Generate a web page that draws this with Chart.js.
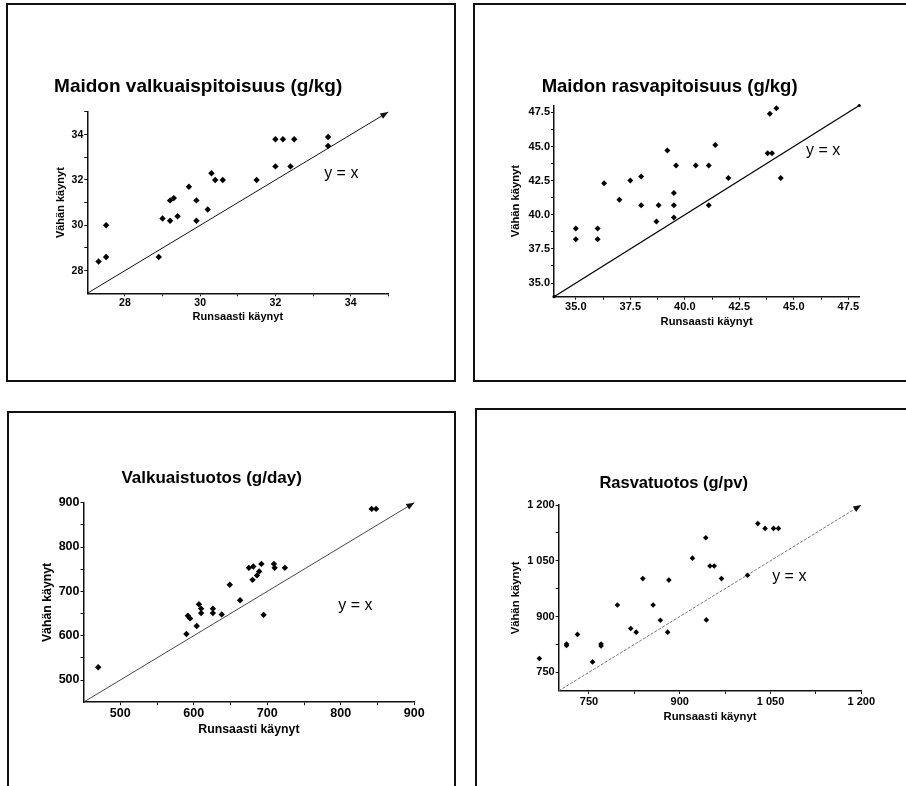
<!DOCTYPE html>
<html>
<head>
<meta charset="utf-8">
<script src="https://cdn.jsdelivr.net/npm/chart.js@4.4.1/dist/chart.umd.min.js"></script>
<style>
  html, body { margin: 0; padding: 0; background: #fff; overflow: hidden; }
  #page { position: relative; width: 906px; height: 786px; overflow: hidden; }
  .frame { position: absolute; border: 2px solid #111; box-sizing: border-box; }
  canvas { position: absolute; }
</style>
</head>
<body>
<div id="page"></div>
<script>
// Maidon valkuaispitoisuus (g/kg)
const protPctX = [27.3, 27.5, 27.5, 28.9, 29.0, 29.2, 29.2, 29.3, 29.4, 29.7, 29.9, 29.9, 30.2, 30.3, 30.4, 30.6, 31.5, 32.0, 32.0, 32.2, 32.5, 32.4, 33.4, 33.4];
const protPctY = [28.4, 28.6, 30.0, 28.6, 30.3, 30.2, 31.1, 31.2, 30.4, 31.7, 31.1, 30.2, 30.7, 32.3, 32.0, 32.0, 32.0, 32.6, 33.8, 33.8, 33.8, 32.6, 33.9, 33.5];
const protPctRange = [27, 35];
const protPctTicks = [28, 29, 30, 31, 32, 33, 34, 35];
const protPctLabelVals = [28, 30, 32, 34];
const protPctLabels = ['28', '30', '32', '34'];

// Maidon rasvapitoisuus (g/kg)
const fatPctX = [35.0, 35.0, 36.0, 36.0, 36.3, 37.0, 37.5, 38.0, 38.0, 38.7, 38.8, 39.2, 39.5, 39.5, 39.5, 39.6, 40.5, 41.1, 41.1, 41.4, 42.0, 43.9, 44.2, 43.8, 44.0, 44.4];
const fatPctY = [39.0, 38.2, 39.0, 38.2, 42.3, 41.1, 42.5, 42.8, 40.7, 39.5, 40.7, 44.7, 41.6, 40.7, 39.8, 43.6, 43.6, 43.6, 40.7, 45.1, 42.7, 47.4, 47.8, 44.5, 44.5, 42.7];
const fatPctRange = [34, 48];
const fatPctTicks = [35, 36.25, 37.5, 38.75, 40, 41.25, 42.5, 43.75, 45, 46.25, 47.5];
const fatPctLabelVals = [35, 37.5, 40, 42.5, 45, 47.5];
const fatPctLabels = ['35.0', '37.5', '40.0', '42.5', '45.0', '47.5'];

// Valkuaistuotos (g/day)
const protYieldX = [470, 590, 592, 595, 604, 607, 610, 610, 626, 626, 638, 649, 663, 675, 681, 692, 689, 686, 680, 709, 710, 724, 695, 842, 848];
const protYieldY = [529, 604, 645, 639, 622, 671, 661, 651, 661, 651, 648, 715, 680, 753, 756, 762, 745, 736, 726, 762, 753, 753, 647, 886, 886];
const protYieldRange = [450, 900];
const protYieldTicks = [500, 550, 600, 650, 700, 750, 800, 850, 900];
const protYieldLabelVals = [500, 600, 700, 800, 900];
const protYieldLabels = ['500', '600', '700', '800', '900'];

// Rasvatuotos (g/pv) - the cow left of the axis (668) is listed last
const fatYieldX = [713, 713, 731, 756, 770, 770, 797, 819, 828, 839, 856, 868, 880, 882, 921, 943, 944, 950, 957, 969, 1012, 1029, 1041, 1055, 1063, 668];
const fatYieldY = [822, 826, 852, 778, 821, 826, 931, 868, 858, 1002, 931, 890, 858, 998, 1057, 1112, 891, 1036, 1036, 1002, 1011, 1150, 1137, 1137, 1137, 787];
const fatYieldRange = [700, 1200];
const fatYieldTicks = [750, 825, 900, 975, 1050, 1125, 1200];
const fatYieldLabelVals = [750, 900, 1050, 1200];
const fatYieldLabels = ['750', '900', '1 050', '1 200'];

const xTitle = 'Runsaasti käynyt';
const yTitle = 'Vähän käynyt';
const FONT = "'Liberation Sans', Arial, Helvetica, sans-serif";

// label "y = x" and an arrow head at the end of the diagonal
const yxLabel = {
  id: 'yxLabel',
  afterDatasetsDraw(chart, args, opts) {
    const { ctx, scales: { x, y } } = chart;
    ctx.save();
    ctx.font = '16px ' + FONT;
    ctx.fillStyle = '#000';
    ctx.textAlign = 'center';
    ctx.textBaseline = 'middle';
    ctx.fillText('y = x', x.getPixelForValue(opts.at[0]), y.getPixelForValue(opts.at[1]));
    ctx.restore();
  }
};

const arrowHead = {
  id: 'arrowHead',
  afterDatasetsDraw(chart, args, opts) {
    if (!opts.show) return;
    const pts = chart.getDatasetMeta(1).data;
    const a = pts[pts.length - 2], b = pts[pts.length - 1];
    const ang = Math.atan2(b.y - a.y, b.x - a.x);
    const len = 8, w = 3.2;
    const ctx = chart.ctx;
    ctx.save();
    ctx.fillStyle = '#111';
    ctx.beginPath();
    ctx.moveTo(b.x, b.y);
    ctx.lineTo(b.x - len * Math.cos(ang) + w * Math.sin(ang), b.y - len * Math.sin(ang) - w * Math.cos(ang));
    ctx.lineTo(b.x - len * Math.cos(ang) - w * Math.sin(ang), b.y - len * Math.sin(ang) + w * Math.cos(ang));
    ctx.closePath();
    ctx.fill();
    ctx.restore();
  }
};

// Chart.js skips points outside the chart area, draw those ones too
const outsidePoints = {
  id: 'outsidePoints',
  afterDatasetsDraw(chart) {
    const area = chart.chartArea;
    chart.getDatasetMeta(0).data.forEach((el) => {
      if (el.x < area.left || el.x > area.right || el.y < area.top || el.y > area.bottom) {
        el.draw(chart.ctx);
      }
    });
  }
};

const page = document.getElementById('page');

function makeFrame(l, t, w, h) {
  const d = document.createElement('div');
  d.className = 'frame';
  d.style.left = l + 'px'; d.style.top = t + 'px';
  d.style.width = w + 'px'; d.style.height = h + 'px';
  page.appendChild(d);
}

function makeAxis(p, range, ticks, labelVals, labels, fit) {
  return {
    type: 'linear',
    min: range[0],
    max: range[1],
    afterBuildTicks: (s) => { s.ticks = ticks.map(v => ({ value: v })); },
    afterFit: fit,
    border: { display: true, color: '#111', width: 1.5 },
    grid: { display: true, drawOnChartArea: false, drawTicks: true, tickLength: 3, color: '#111', lineWidth: 1 },
    ticks: {
      autoSkip: false,
      maxRotation: 0,
      padding: 1,
      color: '#000',
      font: { family: FONT, size: p.tickSize, weight: 'bold' },
      callback: (v) => {
        const i = labelVals.indexOf(v);
        return i >= 0 ? labels[i] : '';
      }
    }
  };
}

function makePanel(p) {
  makeFrame(...p.frame);
  const [cl, ct, cw, ch] = p.canvas;
  const [al, at, ar, ab] = p.area;
  const canvas = document.createElement('canvas');
  canvas.style.left = cl + 'px';
  canvas.style.top = ct + 'px';
  canvas.style.width = cw + 'px';
  canvas.style.height = ch + 'px';
  canvas.width = cw; canvas.height = ch;
  page.appendChild(canvas);

  const tlh = p.titleSize * 1.2;
  const alh = p.axisTitleSize * 1.2;
  const leftW = al - cl;
  const topH = at - ct;
  const rightW = cw - (ar - cl);
  const bottomH = ch - (ab - ct);

  const xAxis = makeAxis(p, p.range, p.ticks, p.labelVals, p.labels, (s) => { s.height = bottomH; });
  xAxis.position = 'bottom';
  xAxis.title = {
    display: true, text: xTitle, color: '#000',
    font: { family: FONT, size: p.axisTitleSize, weight: 'bold' },
    padding: { top: 0, bottom: ch - (p.xTitleY - ct) - alh / 2 }
  };
  const yAxis = makeAxis(p, p.range, p.ticks, p.labelVals, p.labels, (s) => { s.width = leftW; });
  yAxis.position = 'left';
  yAxis.title = {
    display: true, text: yTitle, color: '#000',
    font: { family: FONT, size: p.axisTitleSize, weight: 'bold' },
    padding: { top: p.yTitleX - cl - alh / 2, bottom: 0 }
  };

  new Chart(canvas.getContext('2d'), {
    type: 'scatter',
    data: {
      datasets: [
        {
          data: p.xs.map((x, i) => ({ x: x, y: p.ys[i] })),
          pointStyle: 'rectRot',
          pointRadius: p.r,
          pointHoverRadius: p.r,
          backgroundColor: '#000',
          borderWidth: 0,
          clip: false
        },
        {
          type: 'line',
          data: p.range.map(v => ({ x: v, y: v })),
          borderColor: p.lineColor,
          borderWidth: p.lineWidth,
          borderDash: p.lineDash,
          pointRadius: p.endDots ? 1.6 : 0,
          pointBackgroundColor: '#000',
          pointBorderWidth: 0,
          clip: false
        }
      ]
    },
    options: {
      responsive: false,
      animation: false,
      events: [],
      layout: { padding: { left: 0, top: 0, bottom: 0, right: rightW } },
      scales: { x: xAxis, y: yAxis },
      plugins: {
        legend: { display: false },
        tooltip: { enabled: false },
        title: {
          display: true,
          text: p.title,
          color: '#000',
          font: { family: FONT, size: p.titleSize, weight: 'bold' },
          padding: { top: p.titleY - ct - tlh / 2, bottom: topH - (p.titleY - ct) - tlh / 2 }
        },
        yxLabel: { at: p.note },
        arrowHead: { show: p.arrow }
      }
    },
    plugins: [yxLabel, arrowHead, outsidePoints]
  });
}

makePanel({
  frame: [6, 3, 450, 379], canvas: [8, 5, 444, 375], area: [87.3, 112, 388.3, 293.3],
  title: 'Maidon valkuaispitoisuus (g/kg)', titleSize: 19, titleY: 87,
  yTitleX: 61, xTitleY: 317, tickSize: 10.5, axisTitleSize: 11,
  xs: protPctX, ys: protPctY, range: protPctRange, ticks: protPctTicks,
  labelVals: protPctLabelVals, labels: protPctLabels,
  r: 3.2, lineColor: '#111', lineWidth: 1, lineDash: [], endDots: false, arrow: true, note: [33.75, 32.3]
});

makePanel({
  frame: [473, 3, 440, 379], canvas: [480, 5, 426, 375], area: [554, 105.5, 859.2, 296.7],
  title: 'Maidon rasvapitoisuus (g/kg)', titleSize: 18.5, titleY: 87,
  yTitleX: 516, xTitleY: 322, tickSize: 11, axisTitleSize: 11.2,
  xs: fatPctX, ys: fatPctY, range: fatPctRange, ticks: fatPctTicks,
  labelVals: fatPctLabelVals, labels: fatPctLabels,
  r: 3, lineColor: '#000', lineWidth: 1.3, lineDash: [], endDots: true, arrow: false, note: [46.35, 44.7]
});

makePanel({
  frame: [7, 411, 449, 400], canvas: [9, 413, 466, 373], area: [83.5, 502.7, 414.3, 702.2],
  title: 'Valkuaistuotos (g/day)', titleSize: 17, titleY: 478,
  yTitleX: 48, xTitleY: 730, tickSize: 12.5, axisTitleSize: 12.3,
  xs: protYieldX, ys: protYieldY, range: protYieldRange, ticks: protYieldTicks,
  labelVals: protYieldLabelVals, labels: protYieldLabels,
  r: 3.2, lineColor: '#333', lineWidth: 0.9, lineDash: [], endDots: false, arrow: true, note: [820, 669]
});

makePanel({
  frame: [475, 408, 440, 400], canvas: [486, 411, 420, 375], area: [558.7, 505, 861.3, 690.9],
  title: 'Rasvatuotos (g/pv)', titleSize: 16.5, titleY: 483,
  yTitleX: 516, xTitleY: 717, tickSize: 11, axisTitleSize: 11.3,
  xs: fatYieldX, ys: fatYieldY, range: fatYieldRange, ticks: fatYieldTicks,
  labelVals: fatYieldLabelVals, labels: fatYieldLabels,
  r: 2.8, lineColor: '#777', lineWidth: 1, lineDash: [3, 1.5], endDots: false, arrow: true, note: [1081, 1007]
});
</script>
</body>
</html>
